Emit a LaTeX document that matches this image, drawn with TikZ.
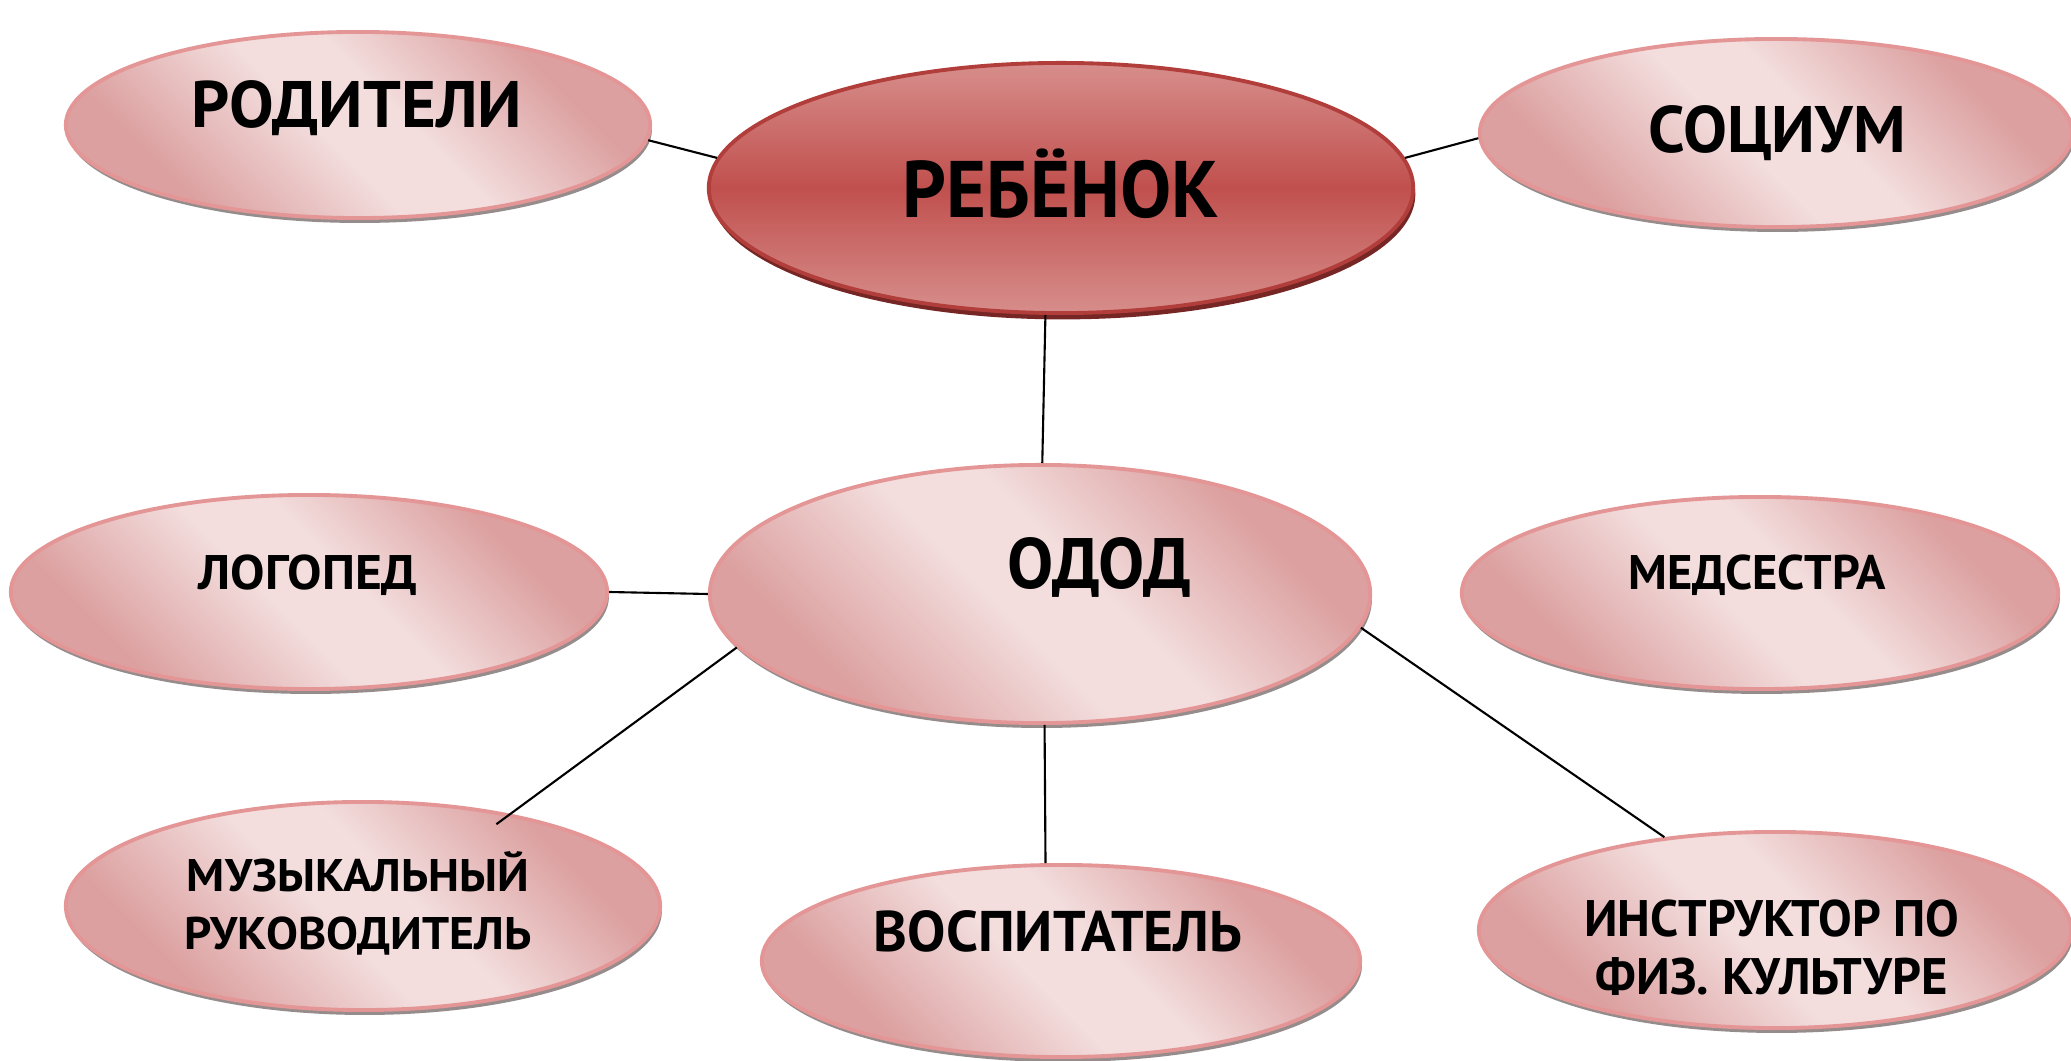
\documentclass[tikz,border=0pt]{standalone}
\usepackage{fontspec}
\setmainfont{PT Sans}
\usetikzlibrary{shapes.geometric,shadows}
\definecolor{pkL}{RGB}{243,221,221}
\definecolor{pkD}{RGB}{220,160,160}
\definecolor{pkEdge}{RGB}{228,150,150}
\definecolor{shd}{RGB}{150,140,140}
\definecolor{redM}{RGB}{192,80,77}
\definecolor{redL}{RGB}{215,142,140}
\definecolor{redEdge}{RGB}{178,62,60}
\definecolor{redShd}{RGB}{118,38,36}
\pgfdeclarehorizontalshading{pinkdiag}{100bp}{color(0bp)=(pkD); color(28bp)=(pkD); color(46bp)=(pkL); color(55bp)=(pkL); color(72bp)=(pkD); color(100bp)=(pkD)}
\newcommand{\fw}[2]{\resizebox{#1}{\height}{#2}}
\tikzset{
  oval/.style={ellipse, inner sep=0pt, draw=pkEdge, line width=1.1pt,
    shading=pinkdiag, shading angle=45,
    drop shadow={shadow xshift=0.5pt, shadow yshift=-1.4pt, fill=shd, opacity=1}},
  bigoval/.style={ellipse, inner sep=0pt, draw=redEdge, line width=1.1pt,
    top color=redL, bottom color=redL, middle color=redM,
    drop shadow={shadow xshift=0.6pt, shadow yshift=-1.8pt, fill=redShd, opacity=1}},
  lbl/.style={inner sep=0pt, text=black, align=center},
  conn/.style={draw=black, line width=0.6pt}
}
\begin{document}
\begin{tikzpicture}[x=0.01cm, y=-0.01cm]
\path[use as bounding box, fill=white] (0,0) rectangle (2071,1061);

% ellipses
\node[bigoval, minimum width=7.04cm, minimum height=2.50cm] (reb) at (1061,188) {};
\node[oval, minimum width=5.84cm, minimum height=1.86cm] (par) at (358,125) {};
\node[oval, minimum width=5.92cm, minimum height=1.88cm] (soc) at (1776,133) {};
\node[oval, minimum width=5.96cm, minimum height=1.94cm] (log) at (309,592) {};
\node[oval, minimum width=6.60cm, minimum height=2.58cm] (od) at (1040,594) {};
\node[oval, minimum width=5.96cm, minimum height=1.92cm] (med) at (1760,593) {};
\node[oval, minimum width=5.94cm, minimum height=2.08cm] (muz) at (363,906) {};
\node[oval, minimum width=5.98cm, minimum height=1.92cm] (vos) at (1061,961) {};
\node[oval, minimum width=5.92cm, minimum height=1.96cm] (ins) at (1775,930) {};

% texts
\node[lbl, font=\fontsize{22.8}{26}\bfseries\selectfont, text height=15.9pt, text depth=0pt] (rebt) at (1061,190) {\fw{89.9pt}{РЕБЁНОК}};
\node[lbl, font=\fontsize{18.7}{22}\bfseries\selectfont, text height=13.1pt, text depth=0pt] (part) at (357,104) {\fw{93.9pt}{РОДИТЕЛИ}};
\node[lbl, font=\fontsize{18.7}{22}\bfseries\selectfont, text height=13.1pt, text depth=0pt] (soct) at (1777,129) {\fw{73.1pt}{СОЦИУМ}};
\node[lbl, font=\fontsize{13.8}{16}\bfseries\selectfont, text height=9.7pt, text depth=0pt] (logt) at (308,572) {\fw{62.3pt}{ЛОГОПЕД}};
\node[lbl, font=\fontsize{20.3}{24}\bfseries\selectfont, text height=14.2pt, text depth=0pt] (odt) at (1099,564) {\fw{52.3pt}{ОДОД}};
\node[lbl, font=\fontsize{13.8}{16}\bfseries\selectfont, text height=9.7pt, text depth=0pt] (medt) at (1757,572) {\fw{73.1pt}{МЕДСЕСТРА}};
\node[lbl, font=\fontsize{13}{16.5}\bfseries\selectfont] (muzt) at (358,903) {\fw{97.3pt}{МУЗЫКАЛЬНЫЙ}\\\fw{98.7pt}{РУКОВОДИТЕЛЬ}};
\node[lbl, font=\fontsize{16.3}{19}\bfseries\selectfont, text height=11.4pt, text depth=0pt] (vost) at (1058,931) {\fw{104.7pt}{ВОСПИТАТЕЛЬ}};
\node[lbl, font=\fontsize{14.6}{16.5}\bfseries\selectfont] (inst) at (1772,948) {\fw{106.7pt}{ИНСТРУКТОР ПО}\\\fw{100.1pt}{ФИЗ. КУЛЬТУРЕ}};

% connectors
\draw[conn] (par.-3) -- (reb.175);
\draw[conn] (reb.5) -- (soc.181);
\draw[conn] (reb.-97) -- (od.89);
\draw[conn] (log.0) -- (od.180);
\draw[conn, shorten >=-5pt] (od.190) -- (muz.32);
\draw[conn] (od.-88) -- (vos.99);
\draw[conn] (od.-6) -- (ins.140);
\end{tikzpicture}
\end{document}
